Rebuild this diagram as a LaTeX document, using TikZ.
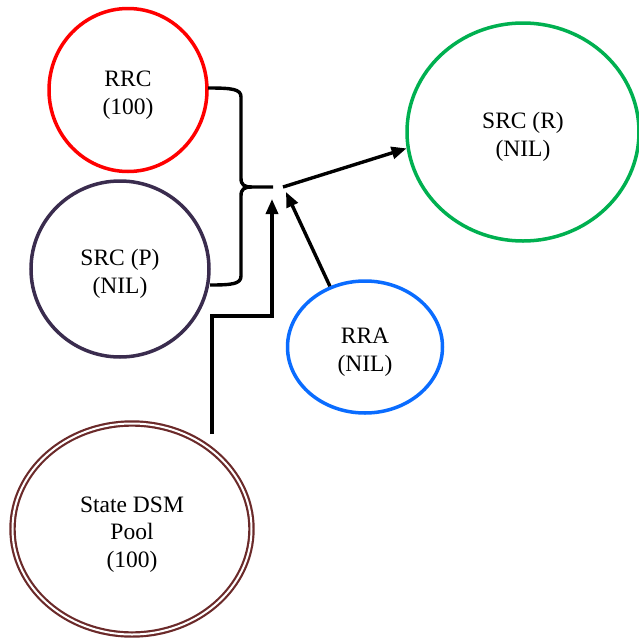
\documentclass[tikz,border=0pt]{standalone}
\usepackage{fontspec}
\setmainfont{Liberation Serif}
\usetikzlibrary{shapes.geometric,arrows.meta}
\definecolor{cred}{HTML}{FF0000}
\definecolor{cpurple}{HTML}{3A2C4E}
\definecolor{cgreen}{HTML}{00B050}
\definecolor{cblue}{HTML}{0A6CFF}
\definecolor{cbrown}{HTML}{6B2A2A}
\newcommand\tup{\rule{0pt}{26pt}}
\begin{document}
\begin{tikzpicture}[x=1pt,y=-1pt,
  bub/.style={ellipse,draw,line width=3.5pt,inner sep=0pt,align=center,
    font=\fontsize{23.5}{27.5}\selectfont},
  conn/.style={line width=3.4pt,black},
  arr/.style={conn,-{Triangle[length=15pt,width=12pt]}}]
\useasboundingbox (0,0) rectangle (639,640);
\node[bub,draw=cred,minimum width=158pt,minimum height=163pt] (rrc) at (128,90) {\tup RRC\\(100)};
\node[bub,draw=cpurple,minimum width=178pt,minimum height=176pt] (srcp) at (120,269) {\tup SRC (P)\\(NIL)};
\node[bub,draw=cgreen,minimum width=232pt,minimum height=218pt] (srcr) at (523,132) {\tup SRC (R)\\(NIL)};
\node[bub,draw=cblue,minimum width=155pt,minimum height=132pt] (rra) at (365,347) {\tup RRA\\(NIL)};
\node[bub,draw=cbrown,line width=2.2pt,double=white,double distance=2pt,minimum width=239pt,minimum height=211pt] (pool) at (132,529) {\tup State DSM\\Pool\\(100)};
% brace
\coordinate (btop) at (208,88);
\coordinate (bbot) at (210,285);
\coordinate (btip) at (273,187);
\draw[conn,line join=round] (btop) .. controls (232,88) and (241,89) .. (241,97) -- (241,178)
  .. controls (241,185) and (244,187) .. (252,187) -- (btip);
\draw[conn,line join=round] (252,187) .. controls (244,187) and (241,189) .. (241,196) -- (241,276)
  .. controls (241,284) and (232,285) .. (bbot);
% arrows
\coordinate (hub) at (283,187);
\coordinate (hubr) at (286,192);
\coordinate (hubp) at (272,199);
\coordinate (poolout) at (212,434);
\coordinate (bend) at (272,316);
\draw[arr] (hub) -- (srcr.188);
\draw[arr] (rra.120) -- (hubr);
\draw[arr,line join=miter] (poolout) |- (bend) -- (hubp);
\end{tikzpicture}
\end{document}
